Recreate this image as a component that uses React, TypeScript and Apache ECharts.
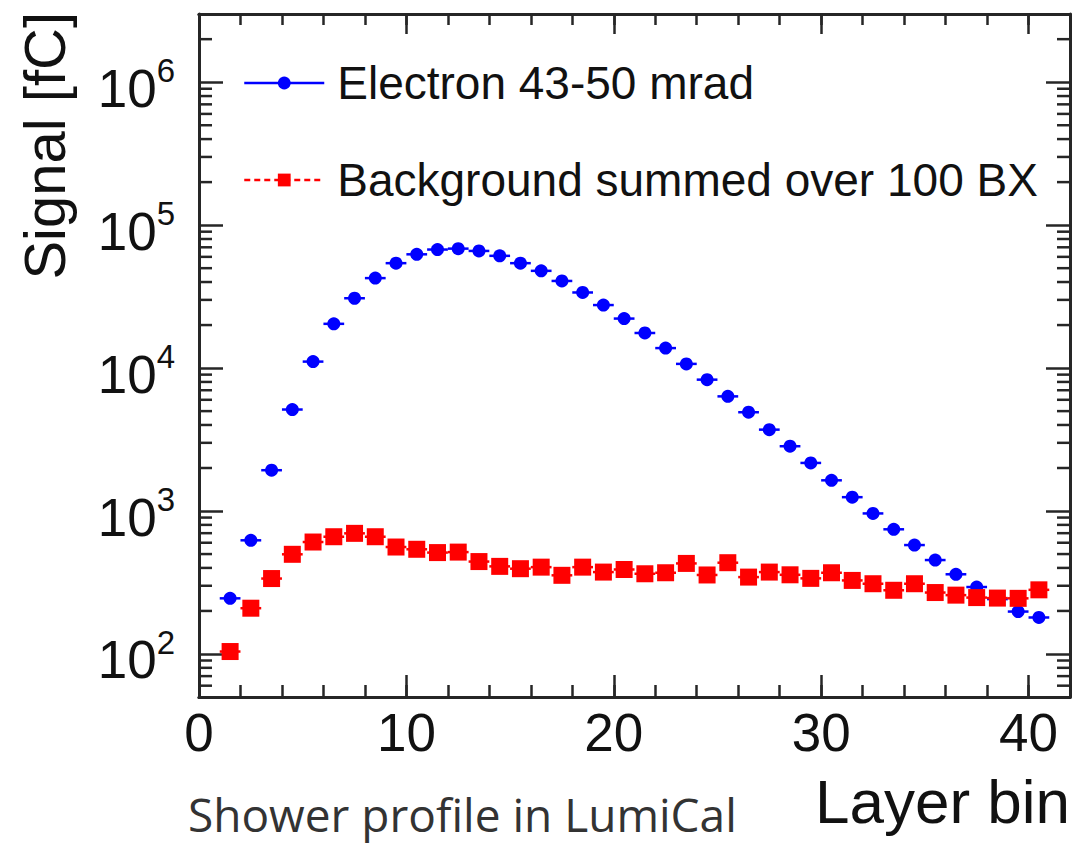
import React, { useEffect, useRef } from "react";
import * as echarts from "echarts";

const layerBins = [
  1.5, 2.5, 3.5, 4.5, 5.5, 6.5, 7.5, 8.5, 9.5, 10.5,
  11.5, 12.5, 13.5, 14.5, 15.5, 16.5, 17.5, 18.5, 19.5, 20.5,
  21.5, 22.5, 23.5, 24.5, 25.5, 26.5, 27.5, 28.5, 29.5, 30.5,
  31.5, 32.5, 33.5, 34.5, 35.5, 36.5, 37.5, 38.5, 39.5, 40.5,
];

const electronSignal = [
  245, 624, 1930, 5130, 11100, 20400, 30800, 42600, 54200, 62500,
  67500, 68500, 66000, 61000, 54200, 47900, 40700, 33800, 27600, 22200,
  17600, 13800, 10700, 8300, 6340, 4910, 3710, 2840, 2170, 1640,
  1250, 962, 745, 578, 454, 361, 294, 242, 198, 180,
];

const backgroundSignal = [
  104, 209, 337, 498, 607, 661, 698, 661, 560, 540,
  512, 516, 443, 410, 395, 405, 355, 405, 374, 390,
  364, 370, 430, 357, 435, 345, 374, 358, 338, 370,
  327, 310, 279, 310, 269, 258, 248, 246, 245, 281,
];

const yMinorTicks = [
  60, 70, 80, 90,
  200, 300, 400, 500, 600, 700, 800, 900,
  2000, 3000, 4000, 5000, 6000, 7000, 8000, 9000,
  20000, 30000, 40000, 50000, 60000, 70000, 80000, 90000,
  200000, 300000, 400000, 500000, 600000, 700000, 800000, 900000,
  2000000,
];

const electronName = "Electron 43-50 mrad";
const backgroundName = "Background summed over 100 BX";
const xTitle = "Layer bin";
const yTitle = "Signal [fC]";
const chartTitle = "Shower profile in LumiCal";
const xMin = 0;
const xMax = 42;
const yMin = 50;
const yMax = 3000000;
const halfBin = 0.5;

const FRAME = "#262626";
const FONT = "'Liberation Sans', Arial, sans-serif";

export default function App() {
  const ref = useRef<HTMLDivElement>(null);

  useEffect(() => {
    if (!ref.current) return;
    const chart = echarts.init(ref.current, undefined, { renderer: "svg" });

    const elecData = layerBins.map((x, i) => [x, electronSignal[i]]);
    const bkgData = layerBins.map((x, i) => [x, backgroundSignal[i]]);

    const errBar = (color: string) => (params: any, api: any) => {
      const x = api.value(0);
      const y = api.value(1);
      const a = api.coord([x - halfBin, y]);
      const b = api.coord([x + halfBin, y]);
      return {
        type: "line",
        shape: { x1: a[0], y1: a[1], x2: b[0], y2: b[1] },
        style: { stroke: color, lineWidth: 2.5 },
      };
    };

    const xAxisBase = {
      type: "value",
      min: xMin,
      max: xMax,
      splitLine: { show: false },
      axisLine: { show: true, onZero: false, lineStyle: { color: FRAME, width: 3 } },
    };

    const yAxisBase = {
      type: "log",
      logBase: 10,
      min: yMin,
      max: yMax,
      splitLine: { show: false },
      minorTick: { show: false },
      axisLine: { show: true, onZero: false, lineStyle: { color: FRAME, width: 3 } },
      axisTick: { show: true, inside: true, length: 24, lineStyle: { color: FRAME, width: 2.5 } },
    };

    const option: any = {
      animation: false,
      backgroundColor: "#ffffff",
      title: {
        text: chartTitle,
        left: 188,
        top: 791,
        padding: 0,
        textStyle: {
          fontFamily: "'Open Sans', 'Noto Sans', sans-serif",
          fontSize: 46,
          lineHeight: 46,
          fontWeight: "normal",
          color: "#333333",
        },
      },
      grid: {
        left: 199,
        right: 16,
        top: 14,
        bottom: 150,
        containLabel: false,
        outerBoundsMode: "none",
      },
      legend: {
        orient: "vertical",
        left: 243,
        top: 60,
        padding: 0,
        itemWidth: 80,
        itemHeight: 16,
        itemGap: 51,
        selectedMode: false,
        textStyle: {
          fontFamily: FONT,
          fontSize: 46,
          lineHeight: 46,
          color: "#111111",
          padding: [0, 0, 0, 8],
        },
        data: [
          {
            name: electronName,
            lineStyle: { color: "#0000ff", width: 2.5, type: "solid", opacity: 1 },
          },
          {
            name: backgroundName,
            lineStyle: { color: "#ff0000", width: 2.5, type: [6, 4], opacity: 1 },
          },
        ],
      },
      xAxis: [
        {
          ...xAxisBase,
          position: "bottom",
          interval: 10,
          axisTick: { show: true, inside: true, length: 22, lineStyle: { color: FRAME, width: 2.5 } },
          axisLabel: {
            show: true,
            margin: 9,
            showMaxLabel: false,
            fontFamily: FONT,
            fontSize: 53,
            color: "#111111",
          },
        },
        {
          ...xAxisBase,
          position: "bottom",
          interval: 2,
          axisTick: { show: true, inside: true, length: 12, lineStyle: { color: FRAME, width: 2.5 } },
          axisLabel: { show: false },
        },
        {
          ...xAxisBase,
          position: "top",
          interval: 10,
          axisTick: { show: true, inside: true, length: 20, lineStyle: { color: FRAME, width: 2.5 } },
          axisLabel: { show: false },
        },
        {
          ...xAxisBase,
          position: "top",
          interval: 2,
          axisTick: { show: true, inside: true, length: 11, lineStyle: { color: FRAME, width: 2.5 } },
          axisLabel: { show: false },
        },
      ],
      yAxis: [
        {
          ...yAxisBase,
          position: "left",
          axisLabel: {
            show: true,
            margin: 24,
            showMinLabel: false,
            showMaxLabel: false,
            formatter: (v: number) => `{b|10}{s|${Math.round(Math.log10(v))}}`,
            rich: {
              b: { fontFamily: FONT, fontSize: 53, lineHeight: 56, color: "#111111", padding: [12, 0, 0, 0] },
              s: { fontFamily: FONT, fontSize: 33, lineHeight: 33, color: "#111111", verticalAlign: "top" },
            },
          },
        },
        {
          ...yAxisBase,
          position: "right",
          axisLabel: { show: false },
        },
      ],
      graphic: [
        {
          type: "text",
          x: 73,
          y: 12,
          rotation: Math.PI / 2,
          style: {
            text: yTitle,
            fontFamily: FONT,
            fontSize: 58,
            fill: "#111111",
            align: "right",
            textAlign: "right",
            verticalAlign: "bottom",
            textVerticalAlign: "bottom",
          },
        },
        {
          type: "text",
          x: 1070,
          y: 801,
          style: {
            text: xTitle,
            fontFamily: FONT,
            fontSize: 62,
            fill: "#111111",
            align: "right",
            textAlign: "right",
            verticalAlign: "middle",
            textVerticalAlign: "middle",
          },
        },
      ],
      series: [
        {
          name: "minorTicks",
          type: "custom",
          xAxisIndex: 0,
          yAxisIndex: 0,
          silent: true,
          clip: false,
          data: yMinorTicks.map((v) => [xMin, v]),
          renderItem: (params: any, api: any) => {
            const v = api.value(1);
            const l = api.coord([xMin, v]);
            const r = api.coord([xMax, v]);
            return {
              type: "group",
              children: [
                {
                  type: "line",
                  shape: { x1: l[0], y1: l[1], x2: l[0] + 13, y2: l[1] },
                  style: { stroke: FRAME, lineWidth: 2.5 },
                },
                {
                  type: "line",
                  shape: { x1: r[0] - 13, y1: r[1], x2: r[0], y2: r[1] },
                  style: { stroke: FRAME, lineWidth: 2.5 },
                },
              ],
            };
          },
          z: 1,
        },
        {
          name: "electronErr",
          type: "custom",
          xAxisIndex: 0,
          yAxisIndex: 0,
          silent: true,
          data: elecData,
          renderItem: errBar("#0000ff"),
          z: 2,
        },
        {
          name: "backgroundErr",
          type: "custom",
          xAxisIndex: 0,
          yAxisIndex: 0,
          silent: true,
          data: bkgData,
          renderItem: errBar("#ff0000"),
          z: 2,
        },
        {
          name: electronName,
          type: "line",
          xAxisIndex: 0,
          yAxisIndex: 0,
          data: elecData,
          symbol: "circle",
          symbolSize: 13,
          showSymbol: true,
          itemStyle: { color: "#0000ff" },
          lineStyle: { opacity: 0, width: 0 },
          z: 3,
        },
        {
          name: backgroundName,
          type: "line",
          xAxisIndex: 0,
          yAxisIndex: 0,
          data: bkgData,
          symbol: "rect",
          symbolSize: 17,
          showSymbol: true,
          itemStyle: { color: "#ff0000" },
          lineStyle: { opacity: 0, width: 0 },
          z: 3,
        },
      ],
    };

    chart.setOption(option);
    return () => chart.dispose();
  }, []);

  return (
    <div
      ref={ref}
      style={{ position: "fixed", left: 0, top: 0, width: 1086, height: 847, background: "#fff" }}
    />
  );
}
